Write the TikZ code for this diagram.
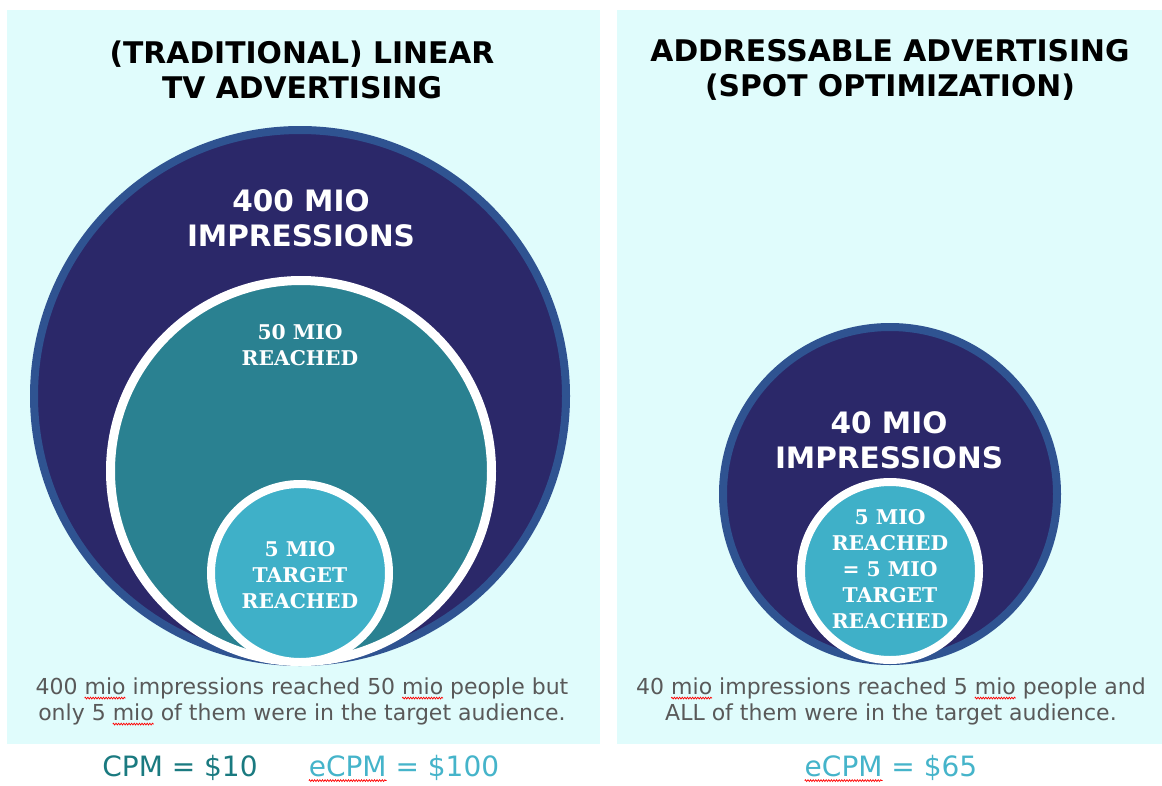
\documentclass[tikz,border=0pt]{standalone}
\usepackage{fontspec}
\setmainfont{DejaVu Sans}
\newfontfamily\slabfont{DejaVu Serif}
\usepackage{tikz}
\usetikzlibrary{ positioning,            % For easy node-relative placements
                 decorations.pathmorphing % For the wavy marks
               }

\definecolor{panelbg}{HTML}{E0FCFC}
\definecolor{navy}{HTML}{2B2869}
\definecolor{navyedge}{HTML}{2F5391}
\definecolor{reachteal}{HTML}{2A8191}
\definecolor{targetblue}{HTML}{3FB0C8}
\definecolor{bodygray}{HTML}{595959}
\definecolor{cpmteal}{HTML}{1A7A80}
\definecolor{ecpmblue}{HTML}{45B4CA}

% red spell-check wave under a word
\newsavebox{\squigbox}
\newcommand{\squig}[1]{\sbox{\squigbox}{#1}\rlap{\tikz[overlay, baseline=0pt, x=1pt, y=1pt]\draw[red, line width=0.7pt, decorate, decoration={zigzag, amplitude=0.9pt, segment length=2.6pt}] (0,-4) -- (\wd\squigbox,-4);}\usebox{\squigbox}}

\tikzset{
  panel/.style={fill=panelbg},
  impr/.style={circle, inner sep=0pt, fill=navy, draw=navyedge, line width=8pt},
  reach/.style={circle, inner sep=0pt, fill=reachteal, draw=white, line width=9pt},
  target/.style={circle, inner sep=0pt, fill=targetblue, draw=white, line width=8pt},
  heading/.style={align=center, font=\bfseries\fontsize{29.8}{35}\selectfont},
  bigtext/.style={align=center, text=white, font=\bfseries\fontsize{29.5}{35}\selectfont},
  smalltext/.style={align=center, text=white, font=\slabfont\bfseries\fontsize{20.3}{26}\selectfont},
  note/.style={align=center, text=bodygray, font=\fontsize{22}{26}\selectfont},
  cost/.style={font=\fontsize{28}{30}\selectfont},
}

\begin{document}
\begin{tikzpicture}[x=1pt, y=-1pt]
  \useasboundingbox (0,0) rectangle (1162,785);
  \fill[white] (0,0) rectangle (1162,785);
  \fill[panel] (7,10) rectangle (600,744);
  \fill[panel] (617,10) rectangle (1162,744);

  % linear TV side
  \node[heading] (linear_title) at (302,70) {(TRADITIONAL) LINEAR\\TV ADVERTISING};
  \node[impr, minimum size=532pt] (linear_impr) at (300,396) {};
  \node[reach, minimum size=381pt] (linear_reach) at (301,471) {};
  \node[target, minimum size=178pt] (linear_target) at (300,573) {};
  \node[bigtext] (linear_impr_txt) at (301,218) {400 MIO\\IMPRESSIONS};
  \node[smalltext] (linear_reach_txt) at (300,345) {50 MIO\\REACHED};
  \node[smalltext] (linear_target_txt) at (300,575) {5 MIO\\TARGET\\REACHED};
  \node[note] (linear_note) at (302,701) {400 \squig{mio} impressions reached 50 \squig{mio} people but\\only 5 \squig{mio} of them were in the target audience.};
  \node[cost, text=cpmteal] (linear_cpm) at (180,768) {CPM = \$10};
  \node[cost, text=ecpmblue] (linear_ecpm) at (404,768) {\squig{eCPM} = \$100};

  % addressable side
  \node[heading] (addr_title) at (890,70) {ADDRESSABLE ADVERTISING\\(SPOT OPTIMIZATION)};
  \node[impr, minimum size=334pt] (addr_impr) at (890,494) {};
  \node[target, minimum size=178pt] (addr_target) at (890,571) {};
  \node[bigtext] (addr_impr_txt) at (889,440) {40 MIO\\IMPRESSIONS};
  \node[smalltext] (addr_target_txt) at (890,569) {5 MIO\\REACHED\\= 5 MIO\\TARGET\\REACHED};
  \node[note] (addr_note) at (891,701) {40 \squig{mio} impressions reached 5 \squig{mio} people and\\ALL of them were in the target audience.};
  \node[cost, text=ecpmblue] (addr_ecpm) at (891,768) {\squig{eCPM} = \$65};
\end{tikzpicture}
\end{document}
